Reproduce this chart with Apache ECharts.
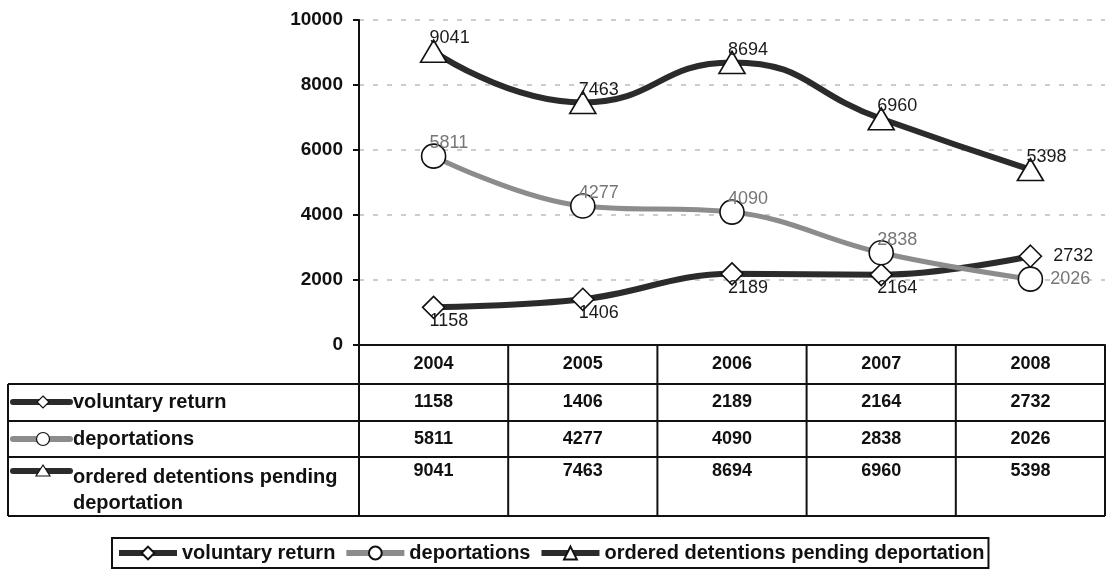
<!DOCTYPE html>
<html>
<head>
<meta charset="utf-8">
<script src="https://cdn.jsdelivr.net/npm/echarts@6/dist/echarts.min.js"></script>
<style>
html, body { margin: 0; padding: 0; background: #fff; }
#main { width: 1108px; height: 576px; }
</style>
</head>
<body>
<div id="main"></div>
<script>
var years = ['2004', '2005', '2006', '2007', '2008'];
var voluntary = [1158, 1406, 2189, 2164, 2732];
var deportations = [5811, 4277, 4090, 2838, 2026];
var detentions = [9041, 7463, 8694, 6960, 5398];
var seriesNames = ['voluntary return', 'deportations', 'ordered detentions pending deportation'];
var rowLabels = ['voluntary return', 'deportations', 'ordered detentions pending\ndeportation'];
var yTicks = [0, 2000, 4000, 6000, 8000, 10000];

var FONT = '"Liberation Sans", Arial, sans-serif';
var DARK = '#2b2b2b';
var GRAY = '#8c8c8c';

var myChart = echarts.init(document.getElementById('main'));

// last point gets its label on the right
function withLabels(values, lastPos) {
    return values.map(function (v, i) {
        if (i == values.length - 1 && lastPos) {
            return { value: v, label: lastPos };
        }
        return v;
    });
}

var symbolStyle = {
    color: '#fff',
    borderColor: '#111',
    borderWidth: 1.6
};

var option = {
    animation: false,
    grid: {
        left: 359,
        right: 3,
        top: 20,
        bottom: 231
    },
    legend: {
        left: 112,
        top: 538,
        itemWidth: 58,
        itemHeight: 16,
        itemGap: 8,
        borderColor: '#111',
        borderWidth: 2,
        padding: [5, 4],
        lineStyle: { width: 6 },
        textStyle: { fontFamily: FONT, fontWeight: 'bold', fontSize: 20, color: '#111' },
        data: seriesNames
    },
    xAxis: {
        type: 'category',
        data: years,
        boundaryGap: true,
        axisLine: { lineStyle: { color: '#111', width: 2 } },
        axisTick: { show: false },
        axisLabel: { margin: 10, fontFamily: FONT, fontWeight: 'bold', fontSize: 18, color: '#111' }
    },
    yAxis: {
        type: 'value',
        min: yTicks[0],
        max: yTicks[yTicks.length - 1],
        interval: 2000,
        axisLine: { show: true, lineStyle: { color: '#111', width: 2 } },
        axisTick: { show: true, length: 6, lineStyle: { color: '#111', width: 2 } },
        axisLabel: {
            margin: 16, fontFamily: FONT, fontWeight: 'bold', fontSize: 19, color: '#111',
            formatter: function (v) { return String(v); }
        },
        splitLine: { show: true, lineStyle: { color: '#bdbdbd', width: 1.5, type: [5, 9] } }
    },
    series: [{
        name: seriesNames[0],
        type: 'line',
        smooth: 0.4,
        symbol: 'diamond',
        symbolSize: [22, 22],
        itemStyle: symbolStyle,
        lineStyle: { color: DARK, width: 6 },
        label: {
            show: true, position: 'bottom', align: 'left', offset: [-4, -12],
            fontFamily: FONT, fontSize: 18, color: '#1a1a1a'
        },
        data: withLabels(voluntary, { position: 'right', align: 'left', offset: [6, 0] }),
        z: 3
    }, {
        name: seriesNames[1],
        type: 'line',
        smooth: 0.4,
        symbol: 'circle',
        symbolSize: 24,
        itemStyle: symbolStyle,
        lineStyle: { color: GRAY, width: 5 },
        label: {
            show: true, position: 'top', align: 'left', offset: [-4, 14],
            fontFamily: FONT, fontSize: 18, color: '#777'
        },
        data: withLabels(deportations, { position: 'right', align: 'left', offset: [2, 0] }),
        z: 4
    }, {
        name: seriesNames[2],
        type: 'line',
        smooth: 0.5,
        symbol: 'triangle',
        symbolSize: [26, 22],
        itemStyle: symbolStyle,
        lineStyle: { color: DARK, width: 6 },
        label: {
            show: true, position: 'top', align: 'left', offset: [-4, 13],
            fontFamily: FONT, fontSize: 18, color: '#1a1a1a'
        },
        data: detentions,
        z: 5
    }]
};
myChart.setOption(option);

// data table under the plot, aligned to the category axis
function buildTable() {
    var xs = years.map(function (y) { return myChart.convertToPixel({ xAxisIndex: 0 }, y); });
    var band = xs[1] - xs[0];
    var bounds = [xs[0] - band / 2];
    xs.forEach(function (x) { bounds.push(x + band / 2); });
    var tableLeft = 8;
    var axisY = myChart.convertToPixel({ yAxisIndex: 0 }, 0);
    var rowLines = [384, 421, 457, 516];
    var rowMid = [402, 439, 471];
    var els = [];
    var pen = { stroke: '#111', lineWidth: 2 };

    function line(x1, y1, x2, y2) {
        els.push({ type: 'line', shape: { x1: x1, y1: y1, x2: x2, y2: y2 }, style: pen, z: 10 });
    }
    // horizontal rules
    rowLines.forEach(function (y) { line(tableLeft, y, bounds[bounds.length - 1], y); });
    // vertical rules
    line(tableLeft, rowLines[0], tableLeft, rowLines[3]);
    bounds.forEach(function (x) { line(x, axisY, x, rowLines[3]); });

    var rows = [voluntary, deportations, detentions];
    var colors = [DARK, GRAY, DARK];
    var marks = ['diamond', 'circle', 'triangle'];
    var bold = 'bold 20px ' + FONT;
    var boldNum = 'bold 18px ' + FONT;
    rows.forEach(function (vals, r) {
        var cy = rowMid[r];
        // small legend key
        els.push({ type: 'line', shape: { x1: 13, y1: cy, x2: 70, y2: cy },
            style: { stroke: colors[r], lineWidth: 6, lineCap: 'round' }, z: 11 });
        var mx = 43, s = 6;
        if (marks[r] == 'diamond') {
            els.push({ type: 'polygon', shape: { points: [[mx, cy - s], [mx + s, cy], [mx, cy + s], [mx - s, cy]] },
                style: { fill: '#fff', stroke: '#111', lineWidth: 1.2 }, z: 12 });
        } else if (marks[r] == 'circle') {
            els.push({ type: 'circle', shape: { cx: mx, cy: cy, r: 6.5 },
                style: { fill: '#fff', stroke: '#111', lineWidth: 1.2 }, z: 12 });
        } else {
            els.push({ type: 'polygon', shape: { points: [[mx, cy - 6], [mx + 7, cy + 5], [mx - 7, cy + 5]] },
                style: { fill: '#fff', stroke: '#111', lineWidth: 1.2 }, z: 12 });
        }
        els.push({ type: 'text', z: 12, style: {
            text: rowLabels[r], x: 73, y: r == 2 ? cy - 7 : cy,
            font: bold, fill: '#111', textAlign: 'left',
            textVerticalAlign: r == 2 ? 'top' : 'middle', lineHeight: 26
        } });
        vals.forEach(function (v, i) {
            els.push({ type: 'text', z: 12, style: {
                text: String(v), x: xs[i], y: cy, font: boldNum, fill: '#111',
                textAlign: 'center', textVerticalAlign: 'middle'
            } });
        });
    });
    myChart.setOption({ graphic: { elements: els } });
}
buildTable();
</script>
</body>
</html>
